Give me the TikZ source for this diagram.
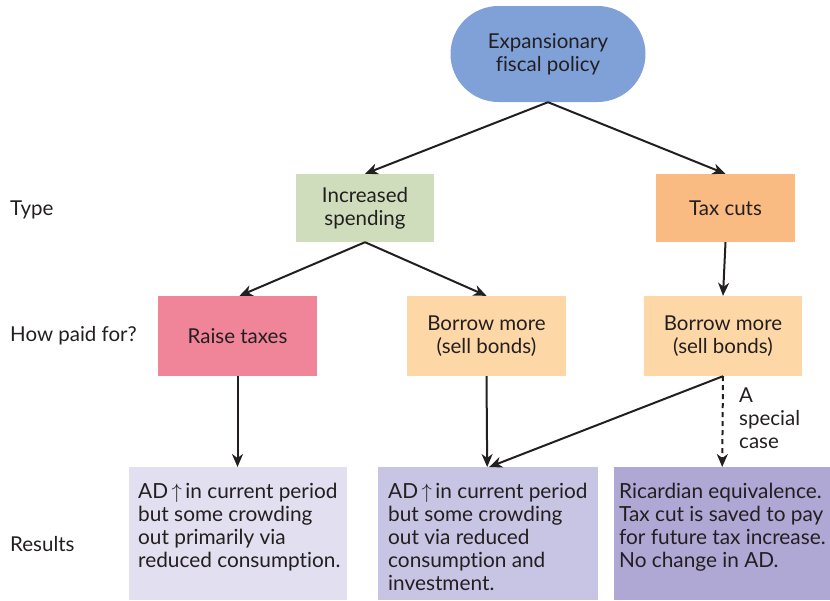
\documentclass[tikz,border=0pt]{standalone}
\usepackage{fontspec}
\setmainfont[Ligatures={NoCommon}]{Lato}
\usetikzlibrary{arrows.meta,shapes.misc}

\definecolor{inkdark}{HTML}{231F20}
\definecolor{pillblue}{HTML}{7FA1D7}
\definecolor{spendgreen}{HTML}{CFDDBC}
\definecolor{taxorange}{HTML}{F9BB82}
\definecolor{raisepink}{HTML}{F08498}
\definecolor{borrowtan}{HTML}{FDD8A6}
\definecolor{lavA}{HTML}{E1DFF0}
\definecolor{lavB}{HTML}{C8C4E3}
\definecolor{lavC}{HTML}{AFA7D4}

\tikzset{
  txt/.style={text=inkdark, font=\fontsize{20.5}{23}\selectfont},
  flowbox/.style={txt, draw=none, align=center, minimum width=#1, minimum height=68pt, inner sep=0pt},
  flowbox/.default=138pt,
  paybox/.style={txt, draw=none, align=center, minimum width=159pt, minimum height=80pt, inner sep=0pt},
  resultbox/.style={draw=none, anchor=north west, inner sep=0pt},
  resulttext/.style={txt, anchor=north west, align=left, inner sep=0pt, font=\fontsize{20.8}{23}\selectfont},
  rowlabel/.style={txt, anchor=west, inner sep=0pt},
  flow/.style={draw=inkdark, line width=2pt, -{Stealth[length=13pt,width=11pt,inset=4pt]}},
}

\begin{document}
\begin{tikzpicture}[x=1pt,y=-1pt]
\useasboundingbox (0,0) rectangle (830,600);

% top of the tree
\node[txt, rounded rectangle, fill=pillblue, minimum width=195pt, minimum height=96pt, inner sep=0pt, align=center]
  (policy) at (548,54) {Expansionary\\fiscal policy};

% type row
\node[flowbox, fill=spendgreen] (spend) at (365,208) {Increased\\spending};
\node[flowbox=139pt, fill=taxorange] (cuts) at (725.5,208) {Tax cuts};

% financing row
\node[paybox, fill=raisepink] (raise) at (237.5,336) {Raise taxes};
\node[paybox, fill=borrowtan] (borrowA) at (486.5,336) {Borrow more\\(sell bonds)};
\node[paybox, fill=borrowtan, minimum width=158pt] (borrowB) at (723,336) {Borrow more\\(sell bonds)};

% result row
\node[resultbox, fill=lavA, minimum width=218pt, minimum height=133pt] (resA) at (129,467) {};
\node[resultbox, fill=lavB, minimum width=220pt, minimum height=133pt] (resB) at (378,467) {};
\node[resultbox, fill=lavC, minimum width=216pt, minimum height=133pt] (resC) at (614,467) {};

\node[resulttext] (resAtext) at ([xshift=9pt,yshift=-16pt]resA.north west)
  {AD\,$\uparrow$\,in current period\\but some crowding\\out primarily via\\reduced consumption.};
\node[resulttext] (resBtext) at ([xshift=10pt,yshift=-16pt]resB.north west)
  {AD\,$\uparrow$\,in current period\\but some crowding\\out via reduced\\consumption and\\investment.};
\node[resulttext] (resCtext) at ([xshift=5pt,yshift=-16pt]resC.north west)
  {Ricardian equivalence.\\Tax cut is saved to pay\\for future tax increase.\\No change in AD.};

% row labels
\node[rowlabel] (lblType) at (10,210) {Type};
\node[rowlabel] (lblPaid) at (10,336) {How paid for?};
\node[rowlabel] (lblRes) at (10,544) {Results};

% connectors
\draw[flow] (policy.south) -- (spend.north);
\draw[flow] (policy.south) -- (cuts.north);
\draw[flow] (spend.south) -- ([xshift=2pt]raise.north);
\draw[flow] (spend.south) -- (borrowA.north);
\draw[flow] (cuts.south) -- (borrowB.north);
\draw[flow] (raise.south) -- (raise.south |- resA.north);
\draw[flow] (borrowA.south) -- ([xshift=-1pt]resB.north);
\draw[flow] (borrowB.south) -- ([xshift=1pt]resB.north);
\draw[flow, dashed, dash pattern=on 5pt off 4pt] (borrowB.south) -- (resC.north);

\node[txt, anchor=north west, align=left, inner sep=0pt]
  (special) at (739,388) {A\\special\\case};
\end{tikzpicture}
\end{document}
